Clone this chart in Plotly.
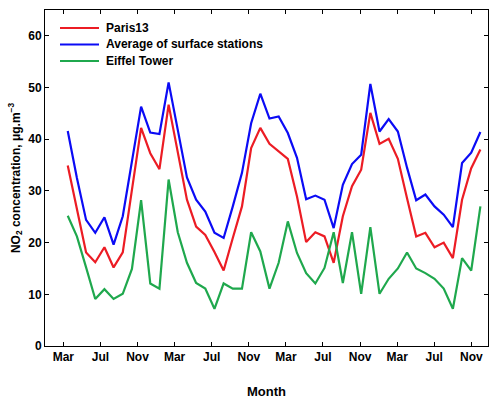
import numpy as np
import plotly.graph_objects as go

# Monthly values, Mar (year 1) .. Dec (year 4)
paris13 = [34.9, 26.5, 18.1, 16.2, 19.1, 15.2, 18.1, 30.2, 42.2, 37.3,
           34.2, 46.7, 37.5, 28.3, 23.1, 21.5, 18.2, 14.6, 20.9, 27.0,
           38.3, 42.2, 39.1, 37.6, 36.2, 28.9, 20.1, 22.0, 21.2, 16.1,
           25.1, 30.9, 34.1, 45.1, 39.1, 40.1, 36.2, 28.6, 21.2, 21.9,
           19.1, 20.0, 17.0, 28.3, 34.4, 38.0]
surface_avg = [41.6, 32.5, 24.4, 21.9, 24.9, 19.6, 25.1, 35.5, 46.3, 41.3,
               41.0, 51.0, 41.5, 32.6, 28.3, 26.0, 21.9, 20.9, 27.0, 33.5,
               43.1, 48.8, 44.0, 44.4, 41.2, 36.4, 28.4, 29.1, 28.3, 22.8,
               31.2, 35.2, 37.0, 50.7, 41.5, 43.9, 41.5, 34.5, 28.2, 29.3,
               27.0, 25.4, 23.0, 35.4, 37.4, 41.4]
eiffel = [25.2, 21.2, 15.2, 9.1, 11.0, 9.1, 10.1, 14.9, 28.2, 12.1,
          11.1, 32.2, 22.0, 16.1, 12.2, 11.1, 7.2, 12.1, 11.1, 11.1,
          22.0, 18.3, 11.1, 16.1, 24.1, 18.0, 14.1, 12.1, 15.1, 22.0,
          12.2, 22.0, 10.1, 23.0, 10.1, 13.0, 15.0, 18.1, 15.0, 14.1,
          13.0, 11.1, 7.2, 17.0, 14.6, 27.0]
tick_labels = ["Mar", "Jul", "Nov", "Mar", "Jul", "Nov",
               "Mar", "Jul", "Nov", "Mar", "Jul", "Nov"]
y_ticks = [0, 10, 20, 30, 40, 50, 60]
series_names = ["Paris13", "Average of surface stations", "Eiffel Tower"]
series_colors = ["#ec1c24", "#0b0bf5", "#1fa84d"]

x = np.arange(len(paris13))
tick_start, tick_step = -0.48, 4.045
tick_vals = [tick_start + k * tick_step for k in range(len(tick_labels))]

FONT = "Liberation Sans, Arial, Helvetica, sans-serif"

fig = go.Figure()
for name, vals, col in zip(series_names, [paris13, surface_avg, eiffel], series_colors):
    fig.add_trace(go.Scatter(x=x, y=vals, mode="lines", name=name,
                             line=dict(color=col, width=2.2), showlegend=False))

# Hand-built legend (to match the compact row spacing of the original)
plot_l, plot_r, plot_t, plot_b = 45, 488, 10, 346
def px_to_paper(px, py):
    return (px - plot_l) / (plot_r - plot_l), (plot_b - py) / (plot_b - plot_t)

legend_rows_y = [28, 44.5, 61]
for name, col, ry in zip(series_names, series_colors, legend_rows_y):
    x0, y0 = px_to_paper(60, ry)
    x1, _ = px_to_paper(99, ry)
    fig.add_shape(type="line", xref="paper", yref="paper", x0=x0, x1=x1, y0=y0, y1=y0,
                  line=dict(color=col, width=2.2))
    tx, _ = px_to_paper(104, ry)
    fig.add_annotation(xref="paper", yref="paper", x=tx, y=y0, text=name,
                       showarrow=False, xanchor="left", yanchor="middle",
                       font=dict(family=FONT, size=12, color="black", weight="bold"))

axis_common = dict(showline=True, linecolor="black", linewidth=1, mirror="ticks",
                   ticks="inside", ticklen=4, tickcolor="black", tickwidth=1,
                   showgrid=False, zeroline=False,
                   tickfont=dict(family=FONT, size=12, color="black", weight="bold"))

fig.update_layout(
    width=492, height=401,
    margin=dict(l=plot_l, r=492 - plot_r, t=plot_t, b=401 - plot_b),
    paper_bgcolor="white", plot_bgcolor="white",
    font=dict(family=FONT, size=12, color="black", weight="bold"),
    xaxis=dict(range=[-2.48, 45.83], tickvals=tick_vals, ticktext=tick_labels,
               title=dict(text="Month", font=dict(family=FONT, size=13, weight="bold"),
                          standoff=23),
               **axis_common),
    yaxis=dict(range=[0, 65], tickvals=y_ticks,
               title=dict(text="NO<sub>2</sub> concentration, \u03bcg.m<sup>\u22123</sup>",
                          font=dict(family=FONT, size=12, weight="bold"), standoff=5),
               **axis_common),
    showlegend=False,
)

fig.write_html("out.html")
